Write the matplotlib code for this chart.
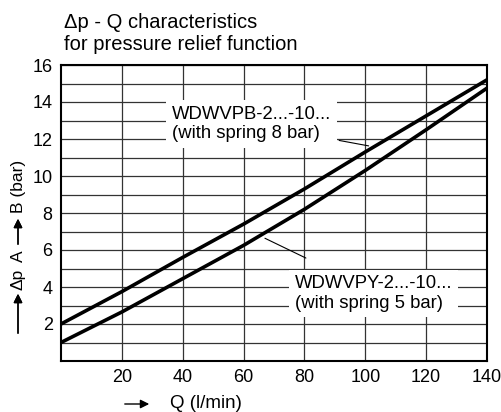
import matplotlib
matplotlib.use("Agg")
import matplotlib.pyplot as plt

plt.rcParams['font.family'] = ['Liberation Sans', 'DejaVu Sans']

q = [0, 20, 40, 60, 80, 100, 120, 140]
dp_spring8 = [2.0, 3.75, 5.6, 7.4, 9.3, 11.3, 13.25, 15.2]
dp_spring5 = [1.0, 2.65, 4.45, 6.25, 8.2, 10.3, 12.5, 14.75]

label8 = "WDWVPB-2...-10...\n(with spring 8 bar)"
label5 = "WDWVPY-2...-10...\n(with spring 5 bar)"

W, H = 502, 412
fig = plt.figure(figsize=(W / 100, H / 100), dpi=100)
ax = fig.add_axes([61 / W, 1 - 361 / H, 426 / W, 296 / H])


def fx(px):
    return px / W


def fy(py):
    return 1 - py / H


ax.plot(q, dp_spring8, color='black', lw=2.6, zorder=3)
ax.plot(q, dp_spring5, color='black', lw=2.6, zorder=3)

ax.set_xlim(0, 140)
ax.set_ylim(0, 16)
ax.set_xticks(range(20, 141, 20))
ax.set_yticks(range(2, 17, 2))
ax.set_yticks(range(1, 16, 2), minor=True)
ax.tick_params(which='both', length=0, labelsize=13, pad=6)
ax.grid(True, which='both', color='#333333', lw=0.9)
for s in ax.spines.values():
    s.set_linewidth(1.5)

# labels with white background
box = dict(facecolor='white', edgecolor='none', pad=4)
ax.text(36.4, 12.8, label8, fontsize=13.3, va='center', ha='left',
        linespacing=1.2, bbox=box, zorder=2)
ax.text(76.8, 3.65, label5, fontsize=13.3, va='center', ha='left',
        linespacing=1.2, bbox=box, zorder=2)

# leader lines
ax.annotate('', xy=(102, 11.6), xytext=(90.5, 11.95),
            arrowprops=dict(arrowstyle='-', lw=0.8, color='black'), zorder=4)
ax.annotate('', xy=(66.2, 6.7), xytext=(81.3, 5.5),
            arrowprops=dict(arrowstyle='-', lw=0.8, color='black'), zorder=4)

# title
fig.text(fx(64), fy(22), "\u0394p - Q characteristics", fontsize=14.5, va='center')
fig.text(fx(64), fy(45), "for pressure relief function", fontsize=14.5, va='center')

# y label with arrows
arr = dict(arrowstyle='-|>', lw=1.0, color='black', mutation_scale=13)
fig.add_artist(plt.annotate('', xy=(fx(18), fy(291)), xytext=(fx(18), fy(336)),
                            xycoords='figure fraction', arrowprops=arr))
fig.text(fx(18), fy(279), "\u0394p", rotation=90, fontsize=12.5, ha='center', va='center')
fig.text(fx(18), fy(256), "A", rotation=90, fontsize=12.5, ha='center', va='center')
fig.add_artist(plt.annotate('', xy=(fx(18), fy(216)), xytext=(fx(18), fy(247)),
                            xycoords='figure fraction', arrowprops=arr))
fig.text(fx(18), fy(186), "B (bar)", rotation=90, fontsize=12.5, ha='center', va='center')

# x label with arrow
ax.annotate('', xy=(fx(152), fy(404)), xytext=(fx(122), fy(404)),
            xycoords='figure fraction', textcoords='figure fraction',
            arrowprops=arr, annotation_clip=False)
fig.text(fx(170), fy(403), "Q (l/min)", fontsize=13.5, ha='left', va='center')

plt.savefig("out.png", dpi=100)
